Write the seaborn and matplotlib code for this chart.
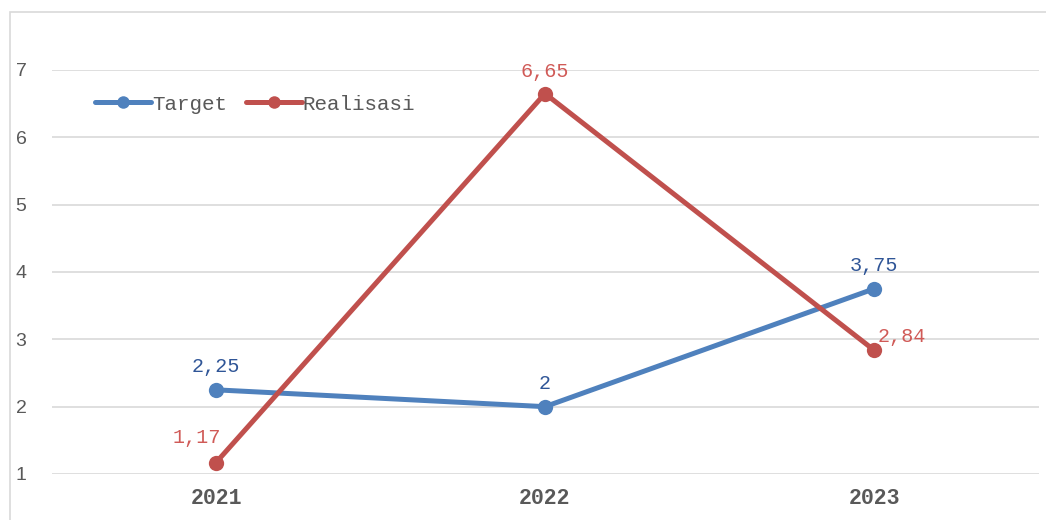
import matplotlib
matplotlib.use("Agg")
import matplotlib.pyplot as plt
import seaborn as sns
import pandas as pd
from matplotlib.patches import Rectangle

years = ["2021", "2022", "2023"]
target = [2.25, 2.0, 3.75]
realisasi = [1.17, 6.65, 2.84]
target_labels = ["2,25", "2", "3,75"]
realisasi_labels = ["1,17", "6,65", "2,84"]
series_names = ["Target", "Realisasi"]
yticks = [1, 2, 3, 4, 5, 6, 7]

df = pd.DataFrame({
    "Tahun": years * 2,
    "Nilai": target + realisasi,
    "Seri": [series_names[0]] * 3 + [series_names[1]] * 3,
})

sns.set_style("white")
plt.rcParams["font.family"] = ["Liberation Mono", "DejaVu Sans"]

fig = plt.figure(figsize=(10.46, 5.2), dpi=100)
ax = fig.add_axes([51.5 / 1046, 46 / 520, 987 / 1046, 404 / 520])

colors = {"Target": "#4F81BD", "Realisasi": "#C0504D"}
sns.lineplot(data=df, x="Tahun", y="Nilai", hue="Seri", palette=colors,
             marker="o", markersize=11, markeredgewidth=0, linewidth=3.6,
             ax=ax, legend=True, sort=False)

ax.set_xlim(-0.5, 2.5)
ax.set_ylim(1, 7)
ax.set_yticks(yticks)
ax.yaxis.grid(True, color="#d9d9d9", linewidth=1.2)
ax.set_axisbelow(True)
for s in ax.spines.values():
    s.set_visible(False)
ax.set_xlabel("")
ax.set_ylabel("")
ax.tick_params(axis="both", length=0)
for lab in ax.get_yticklabels():
    lab.set_fontfamily("Liberation Sans")
    lab.set_fontsize(14)
    lab.set_color("#595959")
ax.tick_params(axis="y", pad=18)
for lab in ax.get_xticklabels():
    lab.set_fontfamily("Liberation Mono")
    lab.set_fontweight("bold")
    lab.set_fontsize(15.5)
    lab.set_color("#595959")
ax.tick_params(axis="x", pad=10)

# data labels
tcol = "#2F5597"
rcol = "#D05A57"
offsets_t = [(0, 16.5), (0, 16.5), (0, 16.5)]
offsets_r = [(-14, 18), (0, 16), (20, 10)]
for i in range(3):
    ax.annotate(target_labels[i], (i, target[i]), xytext=offsets_t[i],
                textcoords="offset points", ha="center", va="center",
                color=tcol, fontsize=14.5, annotation_clip=False)
    ax.annotate(realisasi_labels[i], (i, realisasi[i]), xytext=offsets_r[i],
                textcoords="offset points", ha="center", va="center",
                color=rcol, fontsize=14.5, annotation_clip=False)

leg = ax.legend(loc="center left", bbox_to_anchor=(43 / 987, (474 - 104) / 404), ncol=2,
                frameon=False, fontsize=15, handlelength=2.7, handletextpad=0.05,
                columnspacing=0.9, borderaxespad=0, borderpad=0)
for t in leg.get_texts():
    t.set_color("#595959")
for h in leg.get_lines():
    h.set_linewidth(3.6)
    h.set_markersize(9)

# chart border
fig.patches.append(Rectangle((10 / 1046, -0.1), 1.2, 1.1 - 12 / 520,
                             transform=fig.transFigure, fill=False,
                             edgecolor="#d9d9d9", linewidth=1.2))

fig.savefig("out.png", dpi=100)
